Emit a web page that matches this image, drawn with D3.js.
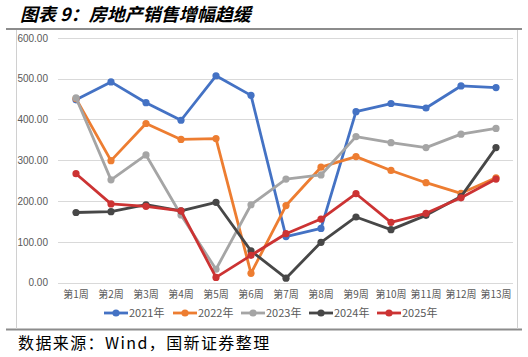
<!DOCTYPE html>
<html><head><meta charset="utf-8">
<script src="https://cdn.jsdelivr.net/npm/d3@7/dist/d3.min.js"></script>
<style>body{margin:0;background:#fff}svg{display:block}</style>
</head><body><svg id="c" width="528" height="357"></svg>
<script>
const weeks = ["第1周","第2周","第3周","第4周","第5周","第6周","第7周","第8周","第9周","第10周","第11周","第12周","第13周"];
const seriesNames = ["2021年","2022年","2023年","2024年","2025年"];
const s2021 = [448,492,441,398,507,459,113,133,419,439,428,482,478];
const s2022 = [451,299,390,351,353,23,189,283,309,275,245,219,257];
const s2023 = [453,252,313,166,33,191,254,264,358,343,331,364,378];
const s2024 = [172,174,191,176,197,78,11,99,161,130,165,211,331];
const s2025 = [267,193,187,176,13,67,120,156,218,148,170,208,254];
const yTicks = [0,100,200,300,400,500,600];
const colors = ["#4472C4","#ED7D31","#A5A5A5","#474747","#CC3333"];
const allSeries = [s2021,s2022,s2023,s2024,s2025];

const svg = d3.select("#c");
// title
svg.append("text").attr("x",20).attr("y",21)
  .attr("font-family","'Noto Sans CJK SC'").attr("font-size",18).attr("font-weight","bold")
  .attr("font-style","italic").attr("fill","#000").text("图表 9：房地产销售增幅趋缓");
// frame
svg.append("line").attr("x1",6).attr("x2",522).attr("y1",29).attr("y2",29).attr("stroke","#8c8c8c").attr("stroke-width",2);
svg.append("line").attr("x1",6).attr("x2",522).attr("y1",329.5).attr("y2",329.5).attr("stroke","#8c8c8c").attr("stroke-width",2);
svg.append("line").attr("x1",16.5).attr("x2",16.5).attr("y1",30).attr("y2",329).attr("stroke","#d0d0d0").attr("stroke-width",1);
svg.append("line").attr("x1",517.5).attr("x2",517.5).attr("y1",30).attr("y2",329).attr("stroke","#d0d0d0").attr("stroke-width",1);

const x = d3.scaleBand().domain(weeks).range([58.5,513.5]);
const y = d3.scaleLinear().domain([0,600]).range([282.7,37.8]);

const g = svg.append("g");
// grid
g.selectAll(".grid").data(yTicks).join("line")
  .attr("x1",58).attr("x2",513).attr("y1",d=>Math.round(y(d))+0.5).attr("y2",d=>Math.round(y(d))+0.5)
  .attr("stroke","#d9d9d9").attr("stroke-width",1);
// y labels
const yAxis = d3.axisLeft(y).tickValues(yTicks).tickFormat(d3.format(".2f")).tickSize(0).tickPadding(0);
const ya = svg.append("g").attr("transform","translate(48,0)").call(yAxis);
ya.select(".domain").remove();
ya.selectAll("text").attr("font-family","'Liberation Sans',Arial").attr("font-size",10).attr("fill","#595959");
// x labels
const xAxis = d3.axisBottom(x).tickSize(0).tickPadding(0);
const xa = svg.append("g").attr("transform","translate(0,291)").call(xAxis);
xa.select(".domain").remove();
xa.selectAll("text").attr("font-family","'Noto Sans CJK SC'").attr("font-size",10).attr("fill","#595959");

const line = d3.line().x((d,i)=>x(weeks[i])+x.bandwidth()/2).y(d=>y(d));
allSeries.forEach((s,k)=>{
  g.append("path").datum(s).attr("d",line).attr("fill","none").attr("stroke",colors[k])
    .attr("stroke-width",2.8).attr("stroke-linejoin","round");
  g.selectAll(".m"+k).data(s).join("circle")
    .attr("cx",(d,i)=>x(weeks[i])+x.bandwidth()/2).attr("cy",d=>y(d)).attr("r",3.6).attr("fill",colors[k]);
});

// legend
const legX = [104,173,241,309,377];
seriesNames.forEach((n,k)=>{
  const lg = svg.append("g").attr("transform",`translate(${legX[k]},313)`);
  lg.append("line").attr("x1",0).attr("x2",24).attr("y1",0).attr("y2",0).attr("stroke",colors[k]).attr("stroke-width",2.8);
  lg.append("circle").attr("cx",12).attr("cy",0).attr("r",3.6).attr("fill",colors[k]);
  lg.append("text").attr("x",25).attr("y",4).attr("font-family","'Noto Sans CJK SC'").attr("font-size",11).attr("fill","#595959").text(n);
});

// source
svg.append("text").attr("x",18).attr("y",349).attr("font-family","'Noto Sans CJK SC'").attr("font-size",16)
  .attr("letter-spacing",1.4).attr("fill","#000").text("数据来源：Wind，国新证券整理");
</script></body></html>
